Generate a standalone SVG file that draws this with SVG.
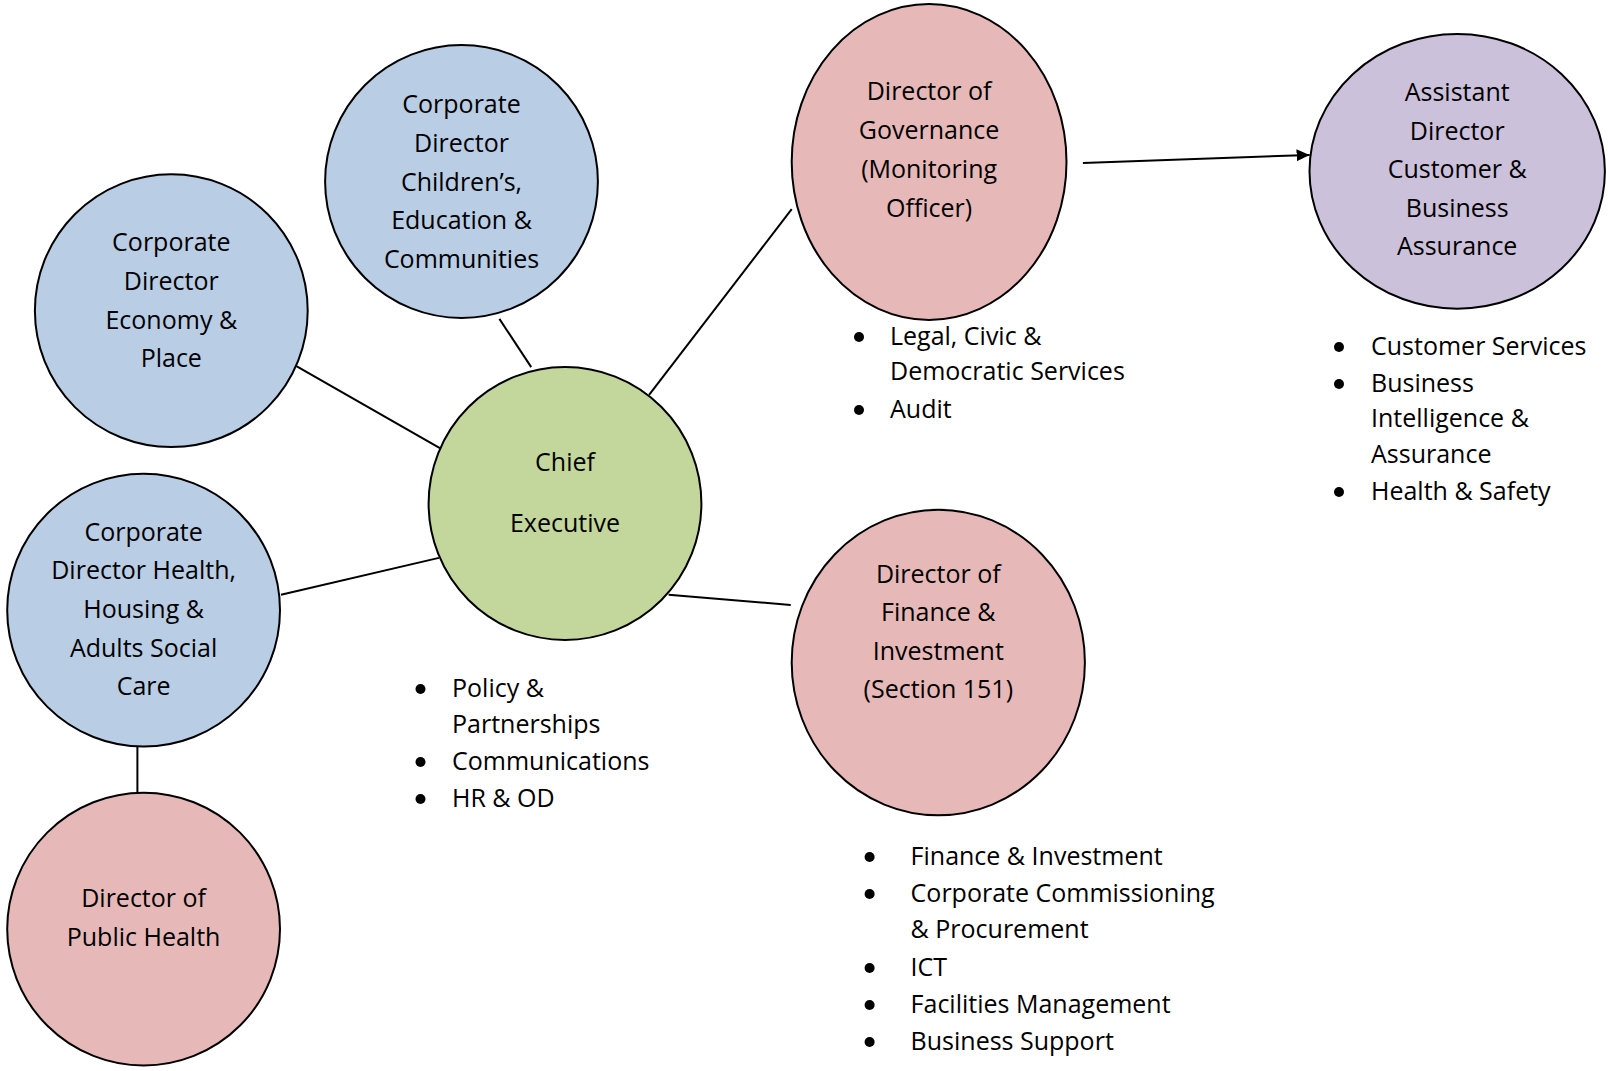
<svg xmlns="http://www.w3.org/2000/svg" width="1608" height="1071" viewBox="0 0 1608 1071">
<style>
.n{stroke:#000;stroke-width:2}
.b{fill:#B9CDE5}.g{fill:#C3D69B}.p{fill:#E6B9B8}.v{fill:#CCC1DA}
text{font-family:"Open Sans","Liberation Sans",sans-serif;font-size:25px;fill:#000}
.c{text-anchor:middle}
.l{stroke:#000;stroke-width:2;fill:none}
.d{fill:#000}
</style>
<defs>
<marker id="ah" markerWidth="14" markerHeight="14" refX="13" refY="7" orient="auto" markerUnits="userSpaceOnUse">
<path d="M0,1 L13,7 L0,13 z" fill="#000"/>
</marker>
</defs>
<g id="connectors">
<line class="l" x1="499.4" y1="318.9" x2="531.2" y2="367.1"/>
<line class="l" x1="296.4" y1="366.1" x2="439.9" y2="448.1"/>
<line class="l" x1="281" y1="594.8" x2="438.9" y2="557.9"/>
<line class="l" x1="137.4" y1="746.6" x2="137.4" y2="792.7"/>
<line class="l" x1="649.1" y1="394.8" x2="791.7" y2="209.2"/>
<line class="l" x1="668.6" y1="594.8" x2="790.7" y2="605"/>
<line class="l" x1="1082.9" y1="163.1" x2="1309.6" y2="154.9" marker-end="url(#ah)"/>
</g>
<g id="children">
<ellipse class="n b" cx="461.5" cy="181.5" rx="136.4" ry="136.4"/>
<text class="c" x="461.5" y="113">Corporate</text>
<text class="c" x="461.5" y="152">Director</text>
<text class="c" x="461.5" y="191">Children’s,</text>
<text class="c" x="461.5" y="229">Education &amp;</text>
<text class="c" x="461.5" y="268">Communities</text>
</g>
<g id="economy">
<ellipse class="n b" cx="171.3" cy="310.7" rx="136.4" ry="136.4"/>
<text class="c" x="171.3" y="251">Corporate</text>
<text class="c" x="171.3" y="290">Director</text>
<text class="c" x="171.3" y="329">Economy &amp;</text>
<text class="c" x="171.3" y="367">Place</text>
</g>
<g id="health">
<ellipse class="n b" cx="143.6" cy="610.2" rx="136.4" ry="136.4"/>
<text class="c" x="143.6" y="541">Corporate</text>
<text class="c" x="143.6" y="579">Director Health,</text>
<text class="c" x="143.6" y="618">Housing &amp;</text>
<text class="c" x="143.6" y="657">Adults Social</text>
<text class="c" x="143.6" y="695">Care</text>
</g>
<g id="publichealth">
<ellipse class="n p" cx="143.6" cy="929.1" rx="136.4" ry="136.4"/>
<text class="c" x="143.6" y="907">Director of</text>
<text class="c" x="143.6" y="946">Public Health</text>
</g>
<g id="chief">
<ellipse class="n g" cx="565" cy="503.5" rx="136.4" ry="136.4"/>
<text class="c" x="565" y="471">Chief</text>
<text class="c" x="565" y="532">Executive</text>
<circle class="d" cx="420.5" cy="689" r="5"/><text x="452" y="697">Policy &amp;</text>
<text x="452" y="733">Partnerships</text>
<circle class="d" cx="420.5" cy="762" r="5"/><text x="452" y="770">Communications</text>
<circle class="d" cx="420.5" cy="799" r="5"/><text x="452" y="807">HR &amp; OD</text>
</g>
<g id="governance">
<ellipse class="n p" cx="929.1" cy="162" rx="137.4" ry="157.9"/>
<text class="c" x="929.1" y="100">Director of</text>
<text class="c" x="929.1" y="139">Governance</text>
<text class="c" x="929.1" y="178">(Monitoring</text>
<text class="c" x="929.1" y="217">Officer)</text>
<circle class="d" cx="859" cy="337" r="5"/><text x="890" y="345">Legal, Civic &amp;</text>
<text x="890" y="380">Democratic Services</text>
<circle class="d" cx="859" cy="410" r="5"/><text x="890" y="418">Audit</text>
</g>
<g id="finance">
<ellipse class="n p" cx="938.3" cy="662.5" rx="146.6" ry="152.8"/>
<text class="c" x="938.3" y="583">Director of</text>
<text class="c" x="938.3" y="621">Finance &amp;</text>
<text class="c" x="938.3" y="660">Investment</text>
<text class="c" x="938.3" y="698">(Section 151)</text>
<circle class="d" cx="869.6" cy="857" r="5"/><text x="910.6" y="865">Finance &amp; Investment</text>
<circle class="d" cx="869.6" cy="894" r="5"/><text x="910.6" y="902">Corporate Commissioning</text>
<text x="910.6" y="938">&amp; Procurement</text>
<circle class="d" cx="869.6" cy="968" r="5"/><text x="910.6" y="976">ICT</text>
<circle class="d" cx="869.6" cy="1005" r="5"/><text x="910.6" y="1013">Facilities Management</text>
<circle class="d" cx="869.6" cy="1042" r="5"/><text x="910.6" y="1050">Business Support</text>
</g>
<g id="assistant">
<ellipse class="n v" cx="1457.2" cy="171.3" rx="147.7" ry="137.4"/>
<text class="c" x="1457.2" y="101">Assistant</text>
<text class="c" x="1457.2" y="140">Director</text>
<text class="c" x="1457.2" y="178">Customer &amp;</text>
<text class="c" x="1457.2" y="217">Business</text>
<text class="c" x="1457.2" y="255">Assurance</text>
<circle class="d" cx="1339" cy="347" r="5"/><text x="1371" y="355">Customer Services</text>
<circle class="d" cx="1339" cy="384" r="5"/><text x="1371" y="392">Business</text>
<text x="1371" y="427">Intelligence &amp;</text>
<text x="1371" y="463">Assurance</text>
<circle class="d" cx="1339" cy="492" r="5"/><text x="1371" y="500">Health &amp; Safety</text>
</g>
</svg>
